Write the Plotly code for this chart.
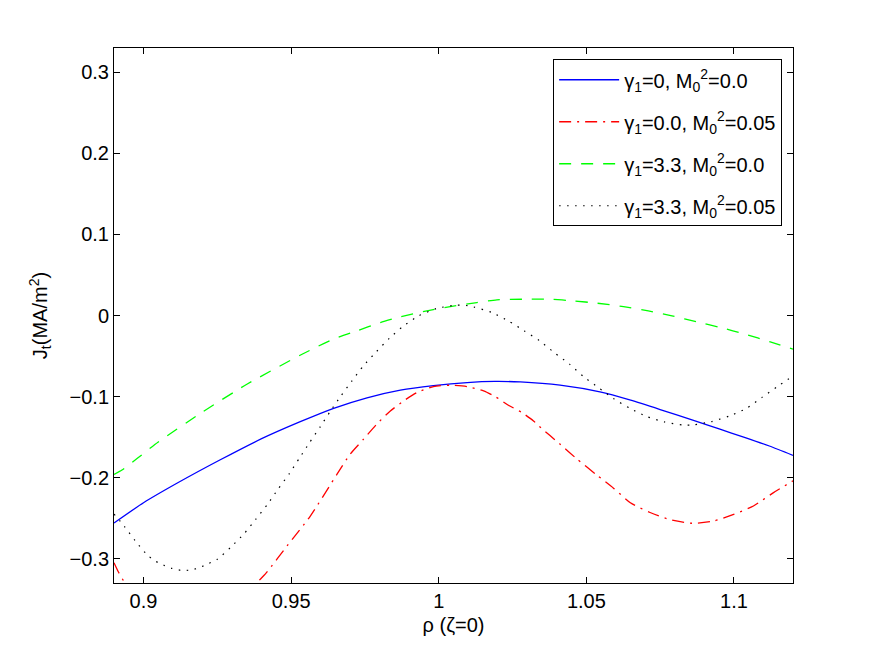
import plotly.graph_objects as go

# ---- data ----
blue_x = [0.89, 0.90, 0.9113, 0.926, 0.94, 0.9531, 0.9644, 0.9757, 0.987, 0.9982,
          1.0096, 1.019, 1.0276, 1.0411, 1.0546, 1.065, 1.075, 1.0863, 1.095, 1.1033,
          1.112, 1.12]
blue_y = [-0.256, -0.231, -0.207, -0.178, -0.152, -0.131, -0.1145, -0.1015, -0.092, -0.0865,
          -0.0827, -0.0813, -0.082, -0.086, -0.0943, -0.1045, -0.116, -0.1295, -0.140, -0.150,
          -0.161, -0.1725]

red_x = [0.89, 0.8915, 0.8935, 0.897, 0.905, 0.915, 0.925, 0.932, 0.9384, 0.9418,
         0.9486, 0.9565, 0.9655, 0.97, 0.9745, 0.979, 0.9836, 0.9881, 0.9926, 0.9982,
         1.0039, 1.0096, 1.0152, 1.0191, 1.0236, 1.0282, 1.0321, 1.0338, 1.0412, 1.0468,
         1.0536, 1.0592, 1.0649, 1.0716, 1.0784, 1.0863, 1.0931, 1.0999, 1.1066, 1.1134, 1.12]
red_y = [-0.305, -0.3165, -0.329, -0.352, -0.385, -0.400, -0.388, -0.362, -0.330, -0.3165,
         -0.2844, -0.2474, -0.196, -0.171, -0.1527, -0.134, -0.1178, -0.1054, -0.095, -0.0877,
         -0.086, -0.0877, -0.093, -0.100, -0.1107, -0.1198, -0.130, -0.136, -0.159, -0.177,
         -0.197, -0.213, -0.231, -0.243, -0.252, -0.2564, -0.2536, -0.2453, -0.235, -0.2185, -0.204]

green_x = [0.89, 0.8927, 0.8978, 0.905, 0.92, 0.935, 0.9537, 0.9644, 0.9723, 0.9802,
           0.987, 0.996, 1.0039, 1.0129, 1.0197, 1.0287, 1.0378, 1.0457, 1.0536, 1.0626,
           1.071, 1.079, 1.0875, 1.0954, 1.1038, 1.1123, 1.12]
green_y = [-0.196, -0.1906, -0.1765, -0.156, -0.119, -0.0848, -0.0478, -0.029, -0.019, -0.0087,
           -0.0017, 0.0057, 0.011, 0.016, 0.0193, 0.0201, 0.0201, 0.018, 0.0152, 0.011,
           0.0057, -0.0005, -0.0079, -0.0148, -0.023, -0.0326, -0.0416]

black_x = [0.89, 0.8935, 0.8972, 0.9013, 0.904, 0.9068, 0.9096, 0.9128, 0.916, 0.919,
           0.922, 0.9249, 0.9296, 0.9341, 0.938, 0.942, 0.9455, 0.9494, 0.9528, 0.9562,
           0.9599, 0.9632, 0.9669, 0.9706, 0.9745, 0.9788, 0.9833, 0.9881, 0.9932, 0.9992,
           1.0056, 1.0086, 1.0118, 1.018, 1.0236, 1.029, 1.0341, 1.0391, 1.0443, 1.049,
           1.0541, 1.0592, 1.0649, 1.0705, 1.0764, 1.0827, 1.086, 1.0923, 1.0984, 1.104,
           1.1095, 1.1146, 1.12]
black_y = [-0.245, -0.260, -0.278, -0.2955, -0.303, -0.308, -0.312, -0.3144, -0.314, -0.311,
           -0.306, -0.301, -0.2857, -0.269, -0.2515, -0.233, -0.2145, -0.195, -0.176, -0.157,
           -0.137, -0.1185, -0.099, -0.0807, -0.062, -0.045, -0.028, -0.0128, -0.0005, 0.0086,
           0.0127, 0.0127, 0.0106, 0.0037, -0.0067, -0.019, -0.031, -0.0457, -0.060, -0.0753,
           -0.0889, -0.1025, -0.1148, -0.1247, -0.1313, -0.135, -0.135, -0.131, -0.124, -0.115,
           -0.101, -0.088, -0.0746]

names = ["γ<sub>1</sub>=0, M<sub>0</sub><sup>2</sup>=0.0",
         "γ<sub>1</sub>=0.0, M<sub>0</sub><sup>2</sup>=0.05",
         "γ<sub>1</sub>=3.3, M<sub>0</sub><sup>2</sup>=0.0",
         "γ<sub>1</sub>=3.3, M<sub>0</sub><sup>2</sup>=0.05"]

x_ticks = [0.9, 0.95, 1.0, 1.05, 1.1]
x_ticktext = ["0.9", "0.95", "1", "1.05", "1.1"]
y_ticks = [-0.3, -0.2, -0.1, 0, 0.1, 0.2, 0.3]
y_ticktext = ["\u22120.3", "\u22120.2", "\u22120.1", "0", "0.1", "0.2", "0.3"]

FONT = "Liberation Sans, Arial, Helvetica, sans-serif"
FS = 20

fig = go.Figure()
fig.add_trace(go.Scatter(x=blue_x, y=blue_y, mode="lines", name=names[0], legendgroup="a",
                         line=dict(color="#0000ff", width=1.3, shape="spline", smoothing=0.6)))
fig.add_trace(go.Scatter(x=red_x, y=red_y, mode="lines", name=names[1], legendgroup="b",
                         line=dict(color="#ff0000", width=1.3, dash="12px,6px,2px,6px",
                                   shape="spline", smoothing=0.6)))
fig.add_trace(go.Scatter(x=green_x, y=green_y, mode="lines", name=names[2], legendgroup="c",
                         line=dict(color="#00ff00", width=1.3, dash="12px,10px",
                                   shape="spline", smoothing=0.6)))
fig.add_trace(go.Scatter(x=black_x, y=black_y, mode="lines", name=names[3], legendgroup="d",
                         line=dict(color="#000000", width=1.2, dash="1.5px,6.5px",
                                   shape="spline", smoothing=0.6)))

axis_common = dict(showgrid=False, zeroline=False, showline=True, linecolor="black",
                   linewidth=1, mirror="ticks", ticks="inside", ticklen=6,
                   tickcolor="black", tickwidth=1,
                   tickfont=dict(family=FONT, size=FS, color="black"))

fig.update_xaxes(range=[0.89, 1.12], tickvals=x_ticks, ticktext=x_ticktext,
                 title=dict(text="ρ (ζ=0)", font=dict(family=FONT, size=FS, color="black"),
                            standoff=6),
                 **axis_common)
fig.update_yaxes(range=[-0.33, 0.33], tickvals=y_ticks, ticktext=y_ticktext,
                 title=dict(text="J<sub>t</sub>(MA/m<sup>2</sup>)",
                            font=dict(family=FONT, size=FS, color="black"), standoff=16),
                 **axis_common)

fig.update_layout(
    width=875, height=659,
    margin=dict(l=114, r=82, t=48, b=76, autoexpand=False),
    paper_bgcolor="white", plot_bgcolor="white",
    font=dict(family=FONT, size=FS, color="black"),
    showlegend=True,
    legend=dict(x=0.984, xanchor="right", y=0.979, yanchor="top",
                bgcolor="white", bordercolor="black", borderwidth=1,
                font=dict(family=FONT, size=FS, color="black"),
                itemwidth=60, tracegroupgap=13, traceorder="grouped"),
)

fig.write_html("out.html")
